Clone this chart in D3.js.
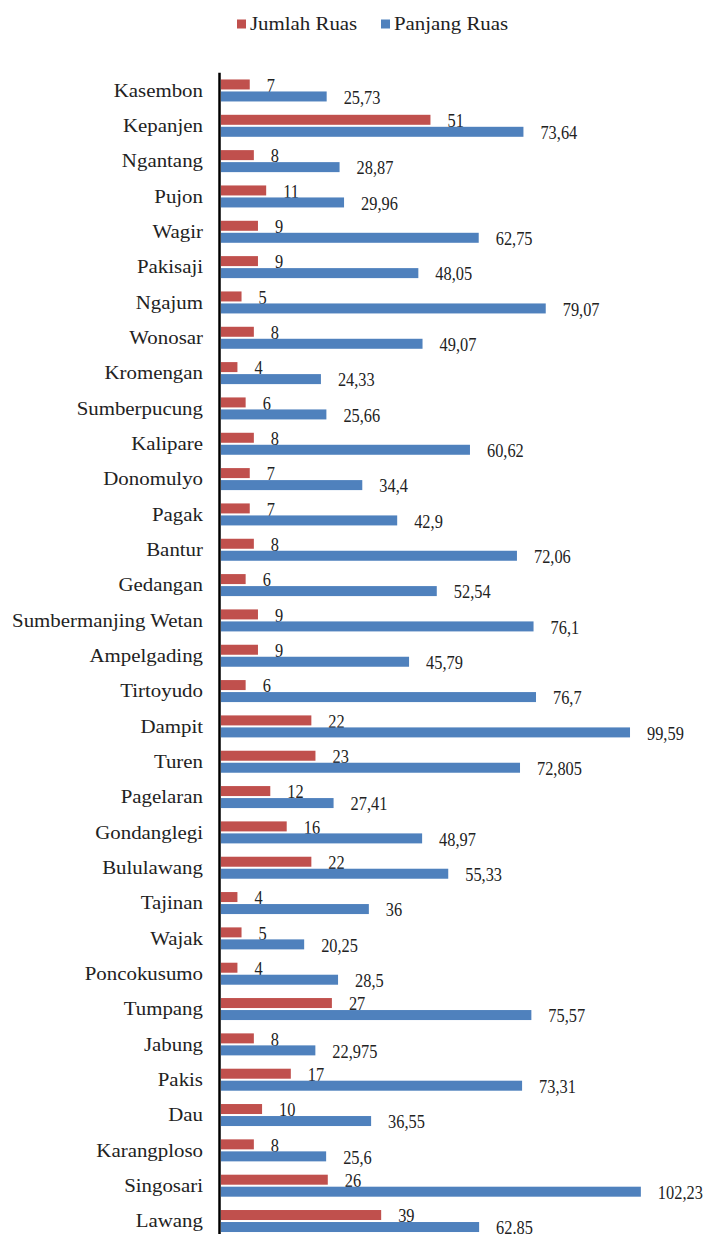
<!DOCTYPE html>
<html>
<head>
<meta charset="utf-8">
<script src="https://cdn.jsdelivr.net/npm/d3@7"></script>
<style>
  body { margin: 0; background: #fff; }
  svg text { font-family: "Liberation Serif", "Tinos", "DejaVu Serif", serif; }
</style>
</head>
<body>
<script>
// kecamatan (top to bottom)
var kecamatan = ["Kasembon", "Kepanjen", "Ngantang", "Pujon", "Wagir", "Pakisaji", "Ngajum",
	"Wonosar", "Kromengan", "Sumberpucung", "Kalipare", "Donomulyo", "Pagak", "Bantur",
	"Gedangan", "Sumbermanjing Wetan", "Ampelgading", "Tirtoyudo", "Dampit", "Turen",
	"Pagelaran", "Gondanglegi", "Bululawang", "Tajinan", "Wajak", "Poncokusumo", "Tumpang",
	"Jabung", "Pakis", "Dau", "Karangploso", "Singosari", "Lawang"];

var jumlahRuas = [7, 51, 8, 11, 9, 9, 5, 8, 4, 6, 8, 7, 7, 8, 6, 9, 9, 6, 22, 23,
	12, 16, 22, 4, 5, 4, 27, 8, 17, 10, 8, 26, 39];

var panjangRuas = [25.73, 73.64, 28.87, 29.96, 62.75, 48.05, 79.07, 49.07, 24.33, 25.66,
	60.62, 34.4, 42.9, 72.06, 52.54, 76.1, 45.79, 76.7, 99.59, 72.805, 27.41, 48.97,
	55.33, 36, 20.25, 28.5, 75.57, 22.975, 73.31, 36.55, 25.6, 102.23, 62.85];

// labels as printed (Lawang uses a dot in the original)
var panjangLabels = ["25,73", "73,64", "28,87", "29,96", "62,75", "48,05", "79,07", "49,07",
	"24,33", "25,66", "60,62", "34,4", "42,9", "72,06", "52,54", "76,1", "45,79", "76,7",
	"99,59", "72,805", "27,41", "48,97", "55,33", "36", "20,25", "28,5", "75,57", "22,975",
	"73,31", "36,55", "25,6", "102,23", "62.85"];

var seriesNames = ["Jumlah Ruas", "Panjang Ruas"];
var seriesColors = ["#C0504D", "#4F81BD"];

var W = 705, H = 1234;

var svg = d3.select("body").append("svg")
	.attr("width", W)
	.attr("height", H)
	.attr("fill", "#222");

// fit text widths to the original: category names wide, numbers narrow
function fitScale(str, target){
	var p = svg.append("text").style("font-size", "18px").text(str);
	var s = target / p.node().getComputedTextLength();
	p.remove();
	return s;
}
var stretch = fitScale("Sumbermanjing Wetan", 191);
var numStretch = fitScale("102,23", 45);

var x = d3.scaleLinear()
	.domain([0, 110])
	.range([221, 221 + 110 * 4.107]);

var y = d3.scaleBand()
	.domain(kecamatan)
	.range([72.8, 72.8 + 35.33 * kecamatan.length])
	.padding(0);

var barH = 10, gap = 2;

var rows = kecamatan.map(function(k, i){
	return {name: k, vals: [jumlahRuas[i], panjangRuas[i]],
		labels: [String(jumlahRuas[i]), panjangLabels[i]]};
});

// category labels
svg.selectAll("text.cat")
	.data(rows)
	.enter().append("text")
	.attr("class", "cat")
	.attr("transform", function(d){
		return "translate(203," + (y(d.name) + y.bandwidth() / 2) + ") scale(" + stretch + ",1)";
	})
	.attr("dy", "0.35em")
	.attr("text-anchor", "end")
	.style("font-size", "18px")
	.text(function(d){ return d.name; });

// bars + value labels per series
seriesNames.forEach(function(s, si){
	var offY = function(d){
		var c = y(d.name) + y.bandwidth() / 2;
		return si === 0 ? c - gap / 2 - barH : c + gap / 2;
	};

	svg.selectAll("rect.s" + si)
		.data(rows)
		.enter().append("rect")
		.attr("class", "s" + si)
		.attr("x", x(0))
		.attr("y", offY)
		.attr("width", function(d){ return x(d.vals[si]) - x(0); })
		.attr("height", barH)
		.attr("fill", seriesColors[si]);

	svg.selectAll("text.v" + si)
		.data(rows)
		.enter().append("text")
		.attr("class", "v" + si)
		.attr("transform", function(d){
			return "translate(" + (x(d.vals[si]) + 17) + "," + (offY(d) + barH / 2 + 1) + ") scale(" + numStretch + ",1)";
		})
		.attr("dy", "0.35em")
		.style("font-size", "18px")
		.text(function(d){ return d.labels[si]; });
});

// vertical axis line
svg.append("line")
	.attr("x1", 219.5).attr("x2", 219.5)
	.attr("y1", y.range()[0]).attr("y2", y.range()[1])
	.attr("stroke", "#000")
	.attr("stroke-width", 2.5);

// legend
var legendX = [237, 381];
var legend = svg.selectAll("g.legend")
	.data(seriesNames)
	.enter().append("g")
	.attr("class", "legend")
	.attr("transform", function(d, i){ return "translate(" + legendX[i] + ",24)"; });

legend.append("rect")
	.attr("x", 0).attr("y", -4.5)
	.attr("width", 9).attr("height", 9)
	.attr("fill", function(d, i){ return seriesColors[i]; });

legend.append("text")
	.attr("transform", "translate(13,0) scale(" + stretch + ",1)")
	.attr("dy", "0.35em")
	.style("font-size", "18px")
	.text(function(d){ return d; });
</script>
</body>
</html>
